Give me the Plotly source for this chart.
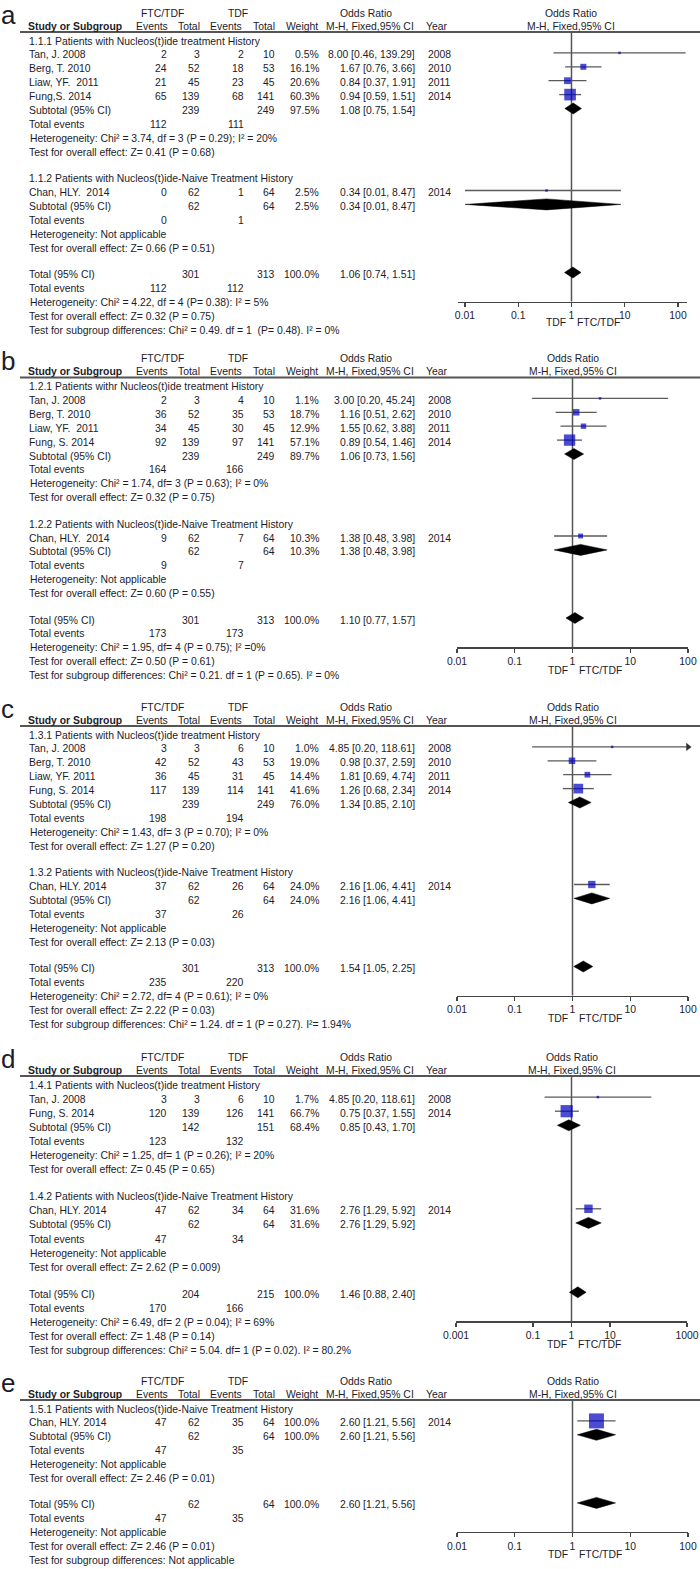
import plotly.graph_objects as go

W, H = 700, 1569
FONT = "Liberation Sans, Arial, sans-serif"
TXT = "#1c1c2a"
FS = 10.4

# ===================== DATA =====================
# ---- panel a ----
a1_title = "1.1.1 Patients with Nucleos(t)ide treatment History"
a1_study = ["Tan, J. 2008", "Berg, T. 2010", "Liaw, YF.  2011", "Fung,S. 2014"]
a1_ev_ftc = [2, 24, 21, 65]
a1_n_ftc = [3, 52, 45, 139]
a1_ev_tdf = [2, 18, 23, 68]
a1_n_tdf = [10, 53, 45, 141]
a1_weight = [0.5, 16.1, 20.6, 60.3]
a1_or = [8.00, 1.67, 0.84, 0.94]
a1_lo = [0.46, 0.76, 0.37, 0.59]
a1_hi = [139.29, 3.66, 1.91, 1.51]
a1_year = [2008, 2010, 2011, 2014]
a1_subtotal = [239, 249, 97.5, 1.08, 0.75, 1.54]
a1_events = [112, 111]
a1_het = "Heterogeneity: Chi² = 3.74, df = 3 (P = 0.29); I² = 20%"
a1_test = "Test for overall effect: Z= 0.41 (P = 0.68)"

a2_title = "1.1.2 Patients with Nucleos(t)ide-Naive Treatment History"
a2_study = ["Chan, HLY.  2014"]
a2_ev_ftc = [0]
a2_n_ftc = [62]
a2_ev_tdf = [1]
a2_n_tdf = [64]
a2_weight = [2.5]
a2_or = [0.34]
a2_lo = [0.01]
a2_hi = [8.47]
a2_year = [2014]
a2_subtotal = [62, 64, 2.5, 0.34, 0.01, 8.47]
a2_events = [0, 1]
a2_het = "Heterogeneity: Not applicable"
a2_test = "Test for overall effect: Z= 0.66 (P = 0.51)"

a_total = [301, 313, 100.0, 1.06, 0.74, 1.51]
a_total_events = [112, 112]
a_total_het = "Heterogeneity: Chi² = 4.22, df = 4 (P= 0.38): I² = 5%"
a_total_test = "Test for overall effect: Z= 0.32 (P = 0.75)"
a_subgroup_test = "Test for subgroup differences: Chi² = 0.49. df = 1  (P= 0.48). I² = 0%"

# ---- panel b ----
b1_title = "1.2.1 Patients withr Nucleos(t)ide treatment History"
b1_study = ["Tan, J. 2008", "Berg, T. 2010", "Liaw, YF.  2011", "Fung, S. 2014"]
b1_ev_ftc = [2, 36, 34, 92]
b1_n_ftc = [3, 52, 45, 139]
b1_ev_tdf = [4, 35, 30, 97]
b1_n_tdf = [10, 53, 45, 141]
b1_weight = [1.1, 18.7, 12.9, 57.1]
b1_or = [3.00, 1.16, 1.55, 0.89]
b1_lo = [0.20, 0.51, 0.62, 0.54]
b1_hi = [45.24, 2.62, 3.88, 1.46]
b1_year = [2008, 2010, 2011, 2014]
b1_subtotal = [239, 249, 89.7, 1.06, 0.73, 1.56]
b1_events = [164, 166]
b1_het = "Heterogeneity: Chi² = 1.74, df= 3 (P = 0.63); I² = 0%"
b1_test = "Test for overall effect: Z= 0.32 (P = 0.75)"

b2_title = "1.2.2 Patients with Nucleos(t)ide-Naive Treatment History"
b2_study = ["Chan, HLY.  2014"]
b2_ev_ftc = [9]
b2_n_ftc = [62]
b2_ev_tdf = [7]
b2_n_tdf = [64]
b2_weight = [10.3]
b2_or = [1.38]
b2_lo = [0.48]
b2_hi = [3.98]
b2_year = [2014]
b2_subtotal = [62, 64, 10.3, 1.38, 0.48, 3.98]
b2_events = [9, 7]
b2_het = "Heterogeneity: Not applicable"
b2_test = "Test for overall effect: Z= 0.60 (P = 0.55)"

b_total = [301, 313, 100.0, 1.10, 0.77, 1.57]
b_total_events = [173, 173]
b_total_het = "Heterogeneity: Chi² = 1.95, df= 4 (P = 0.75); I² =0%"
b_total_test = "Test for overall effect: Z= 0.50 (P = 0.61)"
b_subgroup_test = "Test for subgroup differences: Chi² = 0.21. df = 1 (P = 0.65). I² = 0%"

# ---- panel c ----
c1_title = "1.3.1 Patients with Nucleos(t)ide treatment History"
c1_study = ["Tan, J. 2008", "Berg, T. 2010", "Liaw, YF. 2011", "Fung, S. 2014"]
c1_ev_ftc = [3, 42, 36, 117]
c1_n_ftc = [3, 52, 45, 139]
c1_ev_tdf = [6, 43, 31, 114]
c1_n_tdf = [10, 53, 45, 141]
c1_weight = [1.0, 19.0, 14.4, 41.6]
c1_or = [4.85, 0.98, 1.81, 1.26]
c1_lo = [0.20, 0.37, 0.69, 0.68]
c1_hi = [118.61, 2.59, 4.74, 2.34]
c1_year = [2008, 2010, 2011, 2014]
c1_subtotal = [239, 249, 76.0, 1.34, 0.85, 2.10]
c1_events = [198, 194]
c1_het = "Heterogeneity: Chi² = 1.43, df= 3 (P = 0.70); I² = 0%"
c1_test = "Test for overall effect: Z= 1.27 (P = 0.20)"

c2_title = "1.3.2 Patients with Nucleos(t)ide-Naive Treatment History"
c2_study = ["Chan, HLY. 2014"]
c2_ev_ftc = [37]
c2_n_ftc = [62]
c2_ev_tdf = [26]
c2_n_tdf = [64]
c2_weight = [24.0]
c2_or = [2.16]
c2_lo = [1.06]
c2_hi = [4.41]
c2_year = [2014]
c2_subtotal = [62, 64, 24.0, 2.16, 1.06, 4.41]
c2_events = [37, 26]
c2_het = "Heterogeneity: Not applicable"
c2_test = "Test for overall effect: Z= 2.13 (P = 0.03)"

c_total = [301, 313, 100.0, 1.54, 1.05, 2.25]
c_total_events = [235, 220]
c_total_het = "Heterogeneity: Chi² = 2.72, df= 4 (P = 0.61); I² = 0%"
c_total_test = "Test for overall effect: Z= 2.22 (P = 0.03)"
c_subgroup_test = "Test for subgroup differences: Chi² = 1.24. df = 1 (P = 0.27). I²= 1.94%"

# ---- panel d ----
d1_title = "1.4.1 Patients with Nucleos(t)ide treatment History"
d1_study = ["Tan, J. 2008", "Fung, S. 2014"]
d1_ev_ftc = [3, 120]
d1_n_ftc = [3, 139]
d1_ev_tdf = [6, 126]
d1_n_tdf = [10, 141]
d1_weight = [1.7, 66.7]
d1_or = [4.85, 0.75]
d1_lo = [0.20, 0.37]
d1_hi = [118.61, 1.55]
d1_year = [2008, 2014]
d1_subtotal = [142, 151, 68.4, 0.85, 0.43, 1.70]
d1_events = [123, 132]
d1_het = "Heterogeneity: Chi² = 1.25, df= 1 (P = 0.26); I² = 20%"
d1_test = "Test for overall effect: Z= 0.45 (P = 0.65)"

d2_title = "1.4.2 Patients with Nucleos(t)ide-Naive Treatment History"
d2_study = ["Chan, HLY. 2014"]
d2_ev_ftc = [47]
d2_n_ftc = [62]
d2_ev_tdf = [34]
d2_n_tdf = [64]
d2_weight = [31.6]
d2_or = [2.76]
d2_lo = [1.29]
d2_hi = [5.92]
d2_year = [2014]
d2_subtotal = [62, 64, 31.6, 2.76, 1.29, 5.92]
d2_events = [47, 34]
d2_het = "Heterogeneity: Not applicable"
d2_test = "Test for overall effect: Z= 2.62 (P = 0.009)"

d_total = [204, 215, 100.0, 1.46, 0.88, 2.40]
d_total_events = [170, 166]
d_total_het = "Heterogeneity: Chi² = 6.49, df= 2 (P = 0.04); I² = 69%"
d_total_test = "Test for overall effect: Z= 1.48 (P = 0.14)"
d_subgroup_test = "Test for subgroup differences: Chi² = 5.04. df= 1 (P = 0.02). I² = 80.2%"

# ---- panel e ----
e1_title = "1.5.1 Patients with Nucleos(t)ide-Naive Treatment History"
e1_study = ["Chan, HLY. 2014"]
e1_ev_ftc = [47]
e1_n_ftc = [62]
e1_ev_tdf = [35]
e1_n_tdf = [64]
e1_weight = [100.0]
e1_or = [2.60]
e1_lo = [1.21]
e1_hi = [5.56]
e1_year = [2014]
e1_subtotal = [62, 64, 100.0, 2.60, 1.21, 5.56]
e1_events = [47, 35]
e1_het = "Heterogeneity: Not applicable"
e1_test = "Test for overall effect: Z= 2.46 (P = 0.01)"

e_total = [62, 64, 100.0, 2.60, 1.21, 5.56]
e_total_events = [47, 35]
e_total_het = "Heterogeneity: Not applicable"
e_total_test = "Test for overall effect: Z= 2.46 (P = 0.01)"
e_subgroup_test = "Test for subgroup differences: Not applicable"

panel_letters = ["a", "b", "c", "d", "e"]
ticks_std = [0.01, 0.1, 1, 10, 100]
ticktext_std = ["0.01", "0.1", "1", "10", "100"]
ticks_d = [0.001, 0.1, 1, 10, 1000]
ticktext_d = ["0.001", "0.1", "1", "10", "1000"]
axis_left_label = "TDF"
axis_right_label = "FTC/TDF"


def grp(title, study, ef, nf, et, nt, w, o, lo, hi, yr, sub, ev, het, test):
    return dict(title=title, study=study, ef=ef, nf=nf, et=et, nt=nt, w=w,
                o=o, lo=lo, hi=hi, yr=yr, sub=sub, ev=ev, het=het, test=test)


panels = [
    dict(groups=[grp(a1_title, a1_study, a1_ev_ftc, a1_n_ftc, a1_ev_tdf, a1_n_tdf, a1_weight, a1_or, a1_lo, a1_hi, a1_year, a1_subtotal, a1_events, a1_het, a1_test),
                 grp(a2_title, a2_study, a2_ev_ftc, a2_n_ftc, a2_ev_tdf, a2_n_tdf, a2_weight, a2_or, a2_lo, a2_hi, a2_year, a2_subtotal, a2_events, a2_het, a2_test)],
         total=a_total, tev=a_total_events, thet=a_total_het, ttest=a_total_test, sgt=a_subgroup_test,
         tv=ticks_std, tt=ticktext_std),
    dict(groups=[grp(b1_title, b1_study, b1_ev_ftc, b1_n_ftc, b1_ev_tdf, b1_n_tdf, b1_weight, b1_or, b1_lo, b1_hi, b1_year, b1_subtotal, b1_events, b1_het, b1_test),
                 grp(b2_title, b2_study, b2_ev_ftc, b2_n_ftc, b2_ev_tdf, b2_n_tdf, b2_weight, b2_or, b2_lo, b2_hi, b2_year, b2_subtotal, b2_events, b2_het, b2_test)],
         total=b_total, tev=b_total_events, thet=b_total_het, ttest=b_total_test, sgt=b_subgroup_test,
         tv=ticks_std, tt=ticktext_std),
    dict(groups=[grp(c1_title, c1_study, c1_ev_ftc, c1_n_ftc, c1_ev_tdf, c1_n_tdf, c1_weight, c1_or, c1_lo, c1_hi, c1_year, c1_subtotal, c1_events, c1_het, c1_test),
                 grp(c2_title, c2_study, c2_ev_ftc, c2_n_ftc, c2_ev_tdf, c2_n_tdf, c2_weight, c2_or, c2_lo, c2_hi, c2_year, c2_subtotal, c2_events, c2_het, c2_test)],
         total=c_total, tev=c_total_events, thet=c_total_het, ttest=c_total_test, sgt=c_subgroup_test,
         tv=ticks_std, tt=ticktext_std),
    dict(groups=[grp(d1_title, d1_study, d1_ev_ftc, d1_n_ftc, d1_ev_tdf, d1_n_tdf, d1_weight, d1_or, d1_lo, d1_hi, d1_year, d1_subtotal, d1_events, d1_het, d1_test),
                 grp(d2_title, d2_study, d2_ev_ftc, d2_n_ftc, d2_ev_tdf, d2_n_tdf, d2_weight, d2_or, d2_lo, d2_hi, d2_year, d2_subtotal, d2_events, d2_het, d2_test)],
         total=d_total, tev=d_total_events, thet=d_total_het, ttest=d_total_test, sgt=d_subgroup_test,
         tv=ticks_d, tt=ticktext_d),
    dict(groups=[grp(e1_title, e1_study, e1_ev_ftc, e1_n_ftc, e1_ev_tdf, e1_n_tdf, e1_weight, e1_or, e1_lo, e1_hi, e1_year, e1_subtotal, e1_events, e1_het, e1_test)],
         total=e_total, tev=e_total_events, thet=e_total_het, ttest=e_total_test, sgt=e_subgroup_test,
         tv=ticks_std, tt=ticktext_std),
]

# ===================== LAYOUT (pixel geometry) =====================
geo = [
    dict(line=32, step=13.9, extra=12.5, dom=(458, 687), rng=(-2.131, 2.169), lab=21),
    dict(line=377.5, step=13.9, extra=12.5, dom=(457, 688), rng=(-2, 2), lab=23),
    dict(line=726, step=13.9, extra=12.5, dom=(457, 688), rng=(-2, 2), lab=23),
    dict(line=1076, step=14.1, extra=13, dom=(456, 687), rng=(-3, 3), lab=23),
    dict(line=1400, step=13.9, extra=12.5, dom=(457, 688), rng=(-2, 2), lab=23),
]
COL_EVF, COL_NF, COL_EVT, COL_NT, COL_W, COL_CI, COL_YR = 168, 201, 245, 276, 320, 416, 427
X_LEFT = 28

fig = go.Figure()
ANN = []
SHAPES = []


def T(x, y, text, anchor="left", size=FS, xref="paper", xshift=0, color=TXT):
    ANN.append(dict(x=(x / W if xref == "paper" else x), y=y, xref=xref, yref="y",
                    text=text, showarrow=False, xanchor=anchor, yanchor="middle",
                    xshift=xshift, borderpad=0,
                    font=dict(size=size, color=color, family=FONT)))


def ci_text(o, lo, hi):
    return f"{o:.2f} [{lo:.2f}, {hi:.2f}]"


layout_axes = {}
for i, (P, G) in enumerate(zip(panels, geo)):
    xa = "x" if i == 0 else f"x{i + 1}"
    axkey = "xaxis" if i == 0 else f"xaxis{i + 1}"
    line_y = G["line"]
    step, extra = G["step"], G["extra"]
    r1, r2 = line_y - 19, line_y - 6
    xmax = 10 ** G["rng"][1]

    # panel letter + headers
    T(0, r1 + 2, panel_letters[i], "left", size=26)
    T(162, r1, "FTC/TDF", "center")
    T(238, r1, "TDF", "center")
    T(366, r1, "Odds Ratio", "center")
    T(X_LEFT - 1, r2, "<b>Study or Subgroup</b>", "left")
    T(152, r2, "Events", "center")
    T(COL_NF, r2, "Total", "right")
    T(226, r2, "Events", "center")
    T(COL_NT, r2, "Total", "right")
    T(COL_W - 1, r2, "Weight", "right")
    T(370, r2, "M-H, Fixed,95% CI", "center")
    T(COL_YR - 2, r2, "Year", "left")
    T(0, r1, "Odds Ratio", "center", xref=xa)
    T(0, r2, "M-H, Fixed,95% CI", "center", xref=xa)
    SHAPES.append(dict(type="line", xref="paper", yref="y", x0=20 / W, x1=1.0,
                       y0=line_y, y1=line_y, line=dict(color="#555555", width=2)))

    sq_x, sq_y, sq_s = [], [], []
    ci_x, ci_y = [], []
    arr_x, arr_y = [], []
    dm_x, dm_y = [], []

    def diamond(o, lo, hi, yy):
        dm_x.extend([lo, o, hi, o, lo, None])
        dm_y.extend([yy, yy - 5.5, yy, yy + 5.5, yy, None])

    y = line_y + 9
    for g_i, g in enumerate(P["groups"]):
        if g_i > 0:
            y += extra
        T(X_LEFT, y, g["title"], "left")
        y += step
        for k in range(len(g["study"])):
            T(X_LEFT, y, g["study"][k], "left")
            T(COL_EVF, y, str(g["ef"][k]), "right")
            T(COL_NF, y, str(g["nf"][k]), "right")
            T(COL_EVT, y, str(g["et"][k]), "right")
            T(COL_NT, y, str(g["nt"][k]), "right")
            T(COL_W, y, f"{g['w'][k]:.1f}%", "right")
            T(COL_CI, y, ci_text(g["o"][k], g["lo"][k], g["hi"][k]), "right")
            T(COL_YR, y, str(g["yr"][k]), "left")
            py = y - 2
            hi = g["hi"][k]
            if hi > xmax:
                hi = xmax
                arr_x.append(hi)
                arr_y.append(py)
            ci_x.extend([g["lo"][k], hi, None])
            ci_y.extend([py, py, None])
            sq_x.append(g["o"][k])
            sq_y.append(py)
            sq_s.append(max(2.5, 1.5 * g["w"][k] ** 0.5))
            y += step
        s = g["sub"]
        T(X_LEFT, y, "Subtotal (95% CI)", "left")
        T(COL_NF, y, str(s[0]), "right")
        T(COL_NT, y, str(s[1]), "right")
        T(COL_W, y, f"{s[2]:.1f}%", "right")
        T(COL_CI, y, ci_text(s[3], s[4], s[5]), "right")
        diamond(s[3], s[4], s[5], y - 2)
        y += step
        T(X_LEFT, y, "Total events", "left")
        T(COL_EVF, y, str(g["ev"][0]), "right")
        T(COL_EVT, y, str(g["ev"][1]), "right")
        y += step
        T(X_LEFT + 1, y, g["het"], "left")
        y += step
        T(X_LEFT, y, g["test"], "left")
        y += step
    y += extra
    t = P["total"]
    total_y = y
    T(X_LEFT, y, "Total (95% CI)", "left")
    T(COL_NF, y, str(t[0]), "right")
    T(COL_NT, y, str(t[1]), "right")
    T(COL_W, y, f"{t[2]:.1f}%", "right")
    T(COL_CI, y, ci_text(t[3], t[4], t[5]), "right")
    diamond(t[3], t[4], t[5], y - 2)
    y += step
    T(X_LEFT, y, "Total events", "left")
    T(COL_EVF, y, str(P["tev"][0]), "right")
    T(COL_EVT, y, str(P["tev"][1]), "right")
    y += step
    T(X_LEFT + 1, y, P["thet"], "left")
    y += step
    T(X_LEFT, y, P["ttest"], "left")
    y += step
    T(X_LEFT, y, P["sgt"], "left")

    axis_y = total_y + 27

    fig.add_trace(go.Scatter(x=[1, 1], y=[line_y, axis_y], xaxis=xa, yaxis="y", mode="lines",
                             line=dict(color="#555555", width=1.5), hoverinfo="skip", showlegend=False))
    fig.add_trace(go.Scatter(x=ci_x, y=ci_y, xaxis=xa, yaxis="y", mode="lines",
                             line=dict(color="#5a5a5a", width=1.3), hoverinfo="skip", showlegend=False))
    if arr_x:
        fig.add_trace(go.Scatter(x=arr_x, y=arr_y, xaxis=xa, yaxis="y", mode="markers",
                                 marker=dict(symbol="triangle-right", size=7, color="#333333"),
                                 cliponaxis=False, hoverinfo="skip", showlegend=False))
    fig.add_trace(go.Scatter(x=sq_x, y=sq_y, xaxis=xa, yaxis="y", mode="markers",
                             marker=dict(symbol="square", size=sq_s, color="#0000c0",
                                         line=dict(width=0)),
                             hoverinfo="skip", showlegend=False))
    fig.add_trace(go.Scatter(x=dm_x, y=dm_y, xaxis=xa, yaxis="y", mode="lines", fill="toself",
                             fillcolor="#000000", line=dict(color="#000000", width=0.5),
                             hoverinfo="skip", showlegend=False))

    T(0, axis_y + G["lab"], axis_left_label, "right", xref=xa, xshift=-4)
    T(0, axis_y + G["lab"], axis_right_label, "left", xref=xa, xshift=5)

    layout_axes[axkey] = dict(
        type="log", range=list(G["rng"]), domain=[G["dom"][0] / W, G["dom"][1] / W],
        anchor="free", position=1 - axis_y / H, automargin=False,
        showline=True, linecolor="#444444", linewidth=1.5,
        ticks="outside", ticklen=4, tickwidth=1.3, tickcolor="#444444",
        tickvals=P["tv"], ticktext=P["tt"], tickfont=dict(size=FS, color=TXT, family=FONT),
        showgrid=False, zeroline=False, fixedrange=True,
    )

fig.update_layout(
    template="none",
    width=W, height=H, autosize=False,
    margin=dict(l=0, r=0, t=0, b=0, pad=0, autoexpand=False),
    paper_bgcolor="white", plot_bgcolor="rgba(0,0,0,0)",
    showlegend=False,
    yaxis=dict(range=[H, 0], domain=[0, 1], visible=False, fixedrange=True, anchor="x",
               automargin=False, showgrid=False, zeroline=False),
    annotations=ANN, shapes=SHAPES,
    font=dict(family=FONT, color=TXT, size=FS),
    **layout_axes,
)

fig.write_html("out.html",
               config={"displayModeBar": False, "staticPlot": True},
               post_script="document.body.style.margin='0';document.body.style.padding='0';"
                           "document.documentElement.style.overflow='hidden';")
